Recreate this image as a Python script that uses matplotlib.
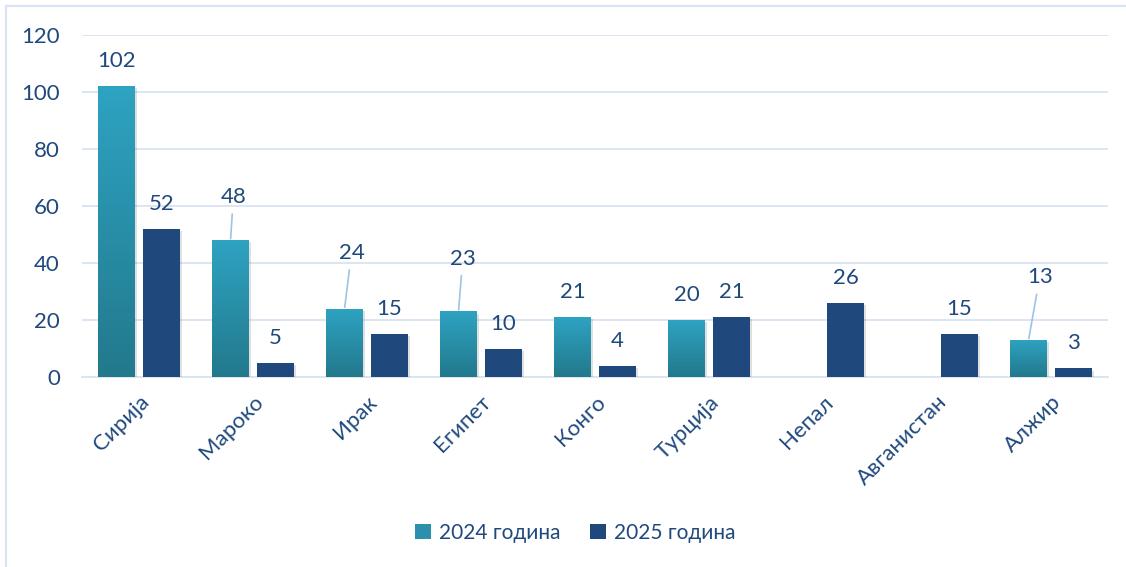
import numpy as np
import matplotlib
matplotlib.use("Agg")
import matplotlib.pyplot as plt
import matplotlib.patheffects as pe
import matplotlib.transforms as mtransforms
from matplotlib.lines import Line2D
from matplotlib.patches import Patch
from matplotlib.colors import LinearSegmentedColormap

plt.rcParams['font.family'] = ['Lato', 'Noto Sans', 'DejaVu Sans']

categories = ['Сирија', 'Мароко', 'Ирак', 'Египет', 'Конго', 'Турција', 'Непал', 'Авганистан', 'Алжир']
values_2024 = [102, 48, 24, 23, 21, 20, np.nan, np.nan, 13]
values_2025 = [52, 5, 15, 10, 4, 21, 26, 15, 3]
series_names = ['2024 година', '2025 година']
yticks = [0, 20, 40, 60, 80, 100, 120]

TEXT = '#1F497D'
C2025 = '#1F497D'
TOP2024 = '#2EA3C2'
BOT2024 = '#22798C'
GRID = '#D9E4F2'
LEADER = '#9DC3E6'
FS = 16

fig = plt.figure(figsize=(11.26, 5.67), dpi=100)
ax = fig.add_axes([82/1126, 190/567, 1026/1126, 342/567])

x = np.arange(len(categories))
w = 0.32
off = 0.197
shadow = [pe.SimplePatchShadow(offset=(1.5, -1.5), alpha=0.18, shadow_rgbFace='#555555'), pe.Normal()]

bars24 = ax.bar(x - off, values_2024, w, color=BOT2024, zorder=3, path_effects=shadow)
bars25 = ax.bar(x + off, values_2025, w, color=C2025, zorder=3, path_effects=shadow)

cmap = LinearSegmentedColormap.from_list('g', [BOT2024, TOP2024])
grad = np.linspace(0, 1, 256).reshape(-1, 1)
for b in bars24:
    h = b.get_height()
    if not np.isfinite(h) or h == 0:
        continue
    x0 = b.get_x()
    im = ax.imshow(grad, cmap=cmap, origin='lower', aspect='auto',
                   extent=(x0, x0 + b.get_width(), 0, h), zorder=4)
    im.set_clip_path(b)

ax.set_xlim(-0.5, len(categories) - 0.5)
ax.set_ylim(0, 120)
ax.set_yticks(yticks)
ax.yaxis.grid(True, color=GRID, linewidth=1.3, zorder=0)
ax.set_axisbelow(True)
for s in ['top', 'right', 'left']:
    ax.spines[s].set_visible(False)
ax.spines['bottom'].set_color(GRID)
ax.spines['bottom'].set_linewidth(1.3)
ax.tick_params(axis='both', length=0, colors=TEXT, labelsize=FS)
ax.tick_params(axis='y', pad=16)

ax.set_xticks(x)
ax.set_xticklabels([])
tr = ax.get_xaxis_transform() + mtransforms.ScaledTranslation(7/100, -22/100, fig.dpi_scale_trans)
for xi, c in zip(x, categories):
    ax.text(xi, 0, c, transform=tr, rotation=45, ha='right', va='center',
            rotation_mode='anchor', fontsize=FS, color=TEXT)

# leader-line label offsets (points) for some 2024 labels
leader = {1: (2, 31), 2: (5, 40), 3: (3, 38), 8: (8, 45)}

for i, v in enumerate(values_2024):
    if not np.isfinite(v):
        continue
    if i in leader:
        dx, dy = leader[i]
        ax.annotate(f'{int(v)}', xy=(x[i] - off, v), xytext=(dx, dy), textcoords='offset points',
                    ha='center', va='center', fontsize=FS, color=TEXT, zorder=6,
                    arrowprops=dict(arrowstyle='-', color=LEADER, lw=1.2, shrinkA=3, shrinkB=-1))
    else:
        ax.annotate(f'{int(v)}', xy=(x[i] - off, v), xytext=(0, 18), textcoords='offset points',
                    ha='center', va='center', fontsize=FS, color=TEXT, zorder=6)
for i, v in enumerate(values_2025):
    ax.annotate(f'{int(v)}', xy=(x[i] + off, v), xytext=(0, 18), textcoords='offset points',
                ha='center', va='center', fontsize=FS, color=TEXT, zorder=6)

handles = [Patch(facecolor='#2A90AC'), Patch(facecolor=C2025)]
leg = fig.legend(handles, series_names, loc='center', bbox_to_anchor=(0.511, 0.06), ncol=2,
                 frameon=False, fontsize=15, handlelength=0.75, handleheight=0.75,
                 handletextpad=0.4, columnspacing=1.4, labelcolor=TEXT)

# outer border (left and top)
fig.add_artist(Line2D([6/1126, 6/1126], [0, 1 - 6/567], transform=fig.transFigure, color='#D6E4F5', lw=1.5))
fig.add_artist(Line2D([6/1126, 1], [1 - 6/567, 1 - 6/567], transform=fig.transFigure, color='#D6E4F5', lw=1.5))

fig.savefig('out.png', dpi=100)
